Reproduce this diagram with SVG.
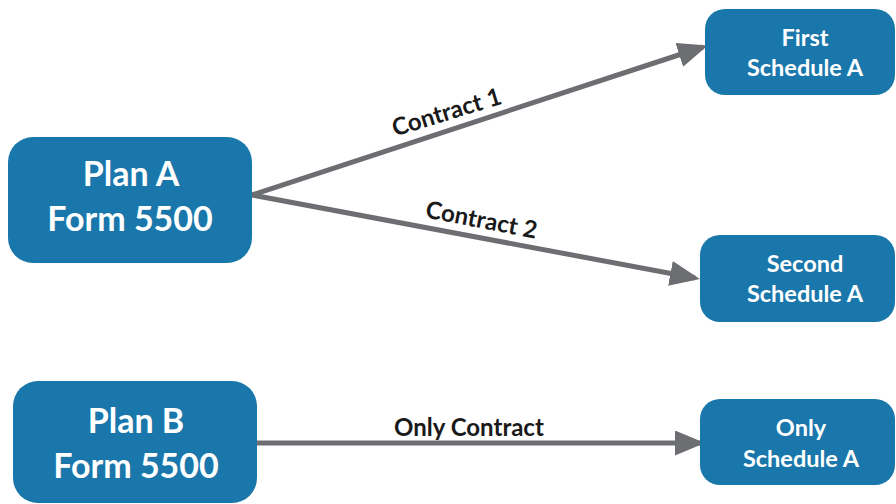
<svg xmlns="http://www.w3.org/2000/svg" width="896" height="504" viewBox="0 0 896 504">
<style>
.box{fill:#1a77ab}
.nt{font-family:Lato,"Open Sans","Liberation Sans",sans-serif;font-weight:bold;fill:#ffffff;text-anchor:middle}
.big{font-size:34px}
.sm{font-size:23.5px}
.edge{stroke:#6d6e72;stroke-width:5;fill:none}
.lbl{font-family:Lato,"Open Sans","Liberation Sans",sans-serif;font-weight:bold;font-size:24px;fill:#1a1a1a;text-anchor:middle}
</style>
<defs>
<marker id="ah" markerWidth="6" markerHeight="5" refX="5" refY="2.5" orient="auto" markerUnits="strokeWidth">
<path d="M0,0 L6,2.5 L0,5 Z" fill="#6d6e72"/>
</marker>
</defs>
<rect width="896" height="504" fill="#ffffff"/>
<g id="connectors">
<line class="edge" x1="252" y1="195" x2="703" y2="47" marker-end="url(#ah)"/>
<line class="edge" x1="252" y1="195" x2="695" y2="278" marker-end="url(#ah)"/>
<line class="edge" x1="257" y1="443" x2="700" y2="443" marker-end="url(#ah)"/>
<text class="lbl" transform="translate(449,120) rotate(-17)">Contract 1</text>
<text class="lbl" transform="translate(480,228) rotate(11)">Contract 2</text>
<text class="lbl" x="469" y="436">Only Contract</text>
</g>
<g id="planA">
<rect class="box" x="8" y="137" width="244" height="126" rx="25"/>
<text class="nt big" x="131" y="186">Plan A</text>
<text class="nt big" x="130" y="231">Form 5500</text>
</g>
<g id="planB">
<rect class="box" x="13" y="381" width="244" height="122" rx="25"/>
<text class="nt big" x="136" y="433">Plan B</text>
<text class="nt big" x="136" y="478">Form 5500</text>
</g>
<g id="first">
<rect class="box" x="705" y="9" width="190" height="86" rx="20"/>
<text class="nt sm" x="805" y="46">First</text>
<text class="nt sm" x="805" y="76">Schedule A</text>
</g>
<g id="second">
<rect class="box" x="700" y="235" width="195" height="87" rx="20"/>
<text class="nt sm" x="805" y="272">Second</text>
<text class="nt sm" x="805" y="302">Schedule A</text>
</g>
<g id="only">
<rect class="box" x="700" y="399" width="195" height="86" rx="20"/>
<text class="nt sm" x="801" y="436">Only</text>
<text class="nt sm" x="801" y="467">Schedule A</text>
</g>
</svg>
